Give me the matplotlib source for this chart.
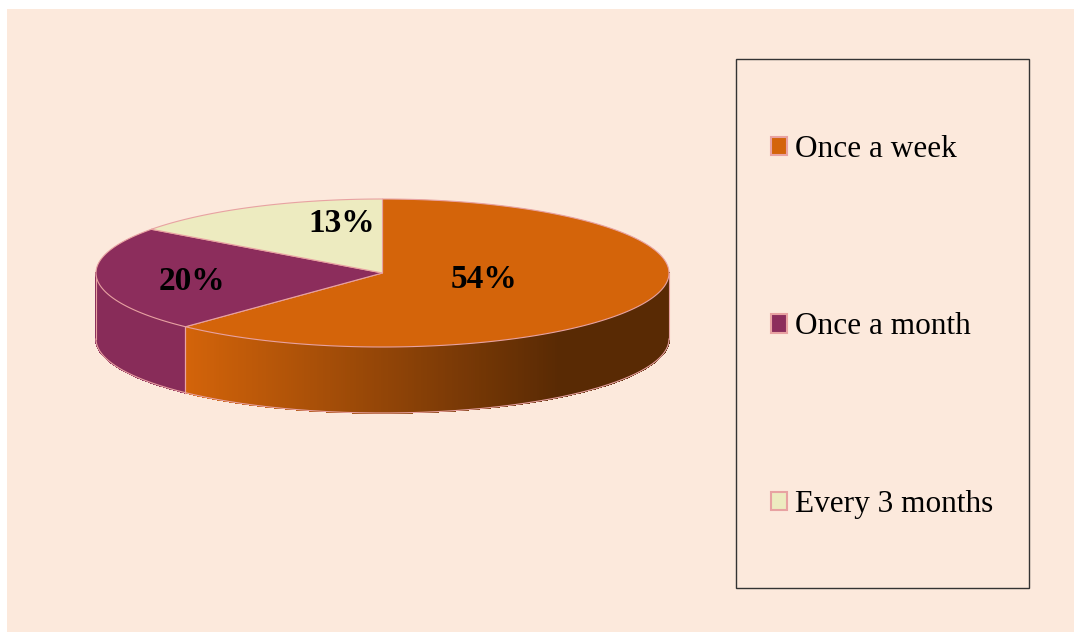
import numpy as np
import matplotlib
matplotlib.use("Agg")
import matplotlib.pyplot as plt
from matplotlib.patches import Polygon, Rectangle, Patch
from matplotlib.collections import PolyCollection
from matplotlib.colors import to_rgb

# datos
categorias = ["Once a week", "Once a month", "Every 3 months"]
valores = [54, 20, 13]
etiquetas = ["54%", "20%", "13%"]
colores = ["#D4640A", "#8C2D5C", "#EDEBC0"]

# geometria del pastel (pixeles)
cx, cy, rx, ry, prof = 382.5, 273, 286.5, 74, 66
borde = "#E8A2A2"
label_pos = [(484, 279), (192, 282), (342, 224)]

fig = plt.figure(figsize=(10.74, 6.32), dpi=100)
fig.patch.set_facecolor("white")
ax = fig.add_axes([0, 0, 1, 1])
ax.set_xlim(0, 1074)
ax.set_ylim(632, 0)
ax.axis("off")
ax.add_patch(Rectangle((7, 9), 1067, 623, facecolor="#FCE9DC", edgecolor="none", zorder=0))

def punto(t):
    t = np.radians(t)
    return cx + rx * np.cos(t), cy - ry * np.sin(t)

# angulos (sentido horario desde arriba)
frac = np.array(valores) / sum(valores)
fin = 90 + 360 * np.cumsum(frac[::-1])
ini = np.concatenate([[90], fin[:-1]])
rangos = list(zip(ini, fin))[::-1]   # orden de categorias

# cara lateral
for (a0, a1), col in zip(rangos, colores):
    lo, hi = max(a0, 180), min(a1, 360)
    if hi <= lo:
        continue
    ts = np.linspace(lo, hi, 300)
    xs, ys = punto(ts)
    quads, cols = [], []
    base = np.array(to_rgb(col))
    for i in range(len(ts) - 1):
        quads.append([(xs[i], ys[i]), (xs[i + 1], ys[i + 1]),
                      (xs[i + 1], ys[i + 1] + prof), (xs[i], ys[i] + prof)])
        f = np.clip((0.5 * (xs[i] + xs[i + 1]) - 185) / (560 - 185), 0, 1)
        cols.append(base * (1 - 0.58 * f) * (0.97 if f == 0 else 1))
    ax.add_collection(PolyCollection(quads, facecolors=cols, edgecolors=cols, linewidths=0.6,
                                     antialiased=False, zorder=2))
    ax.plot(xs, ys + prof, color=borde, lw=0.8, zorder=3)
    for t in (lo, hi):
        if 180 < t < 360:
            x, y = punto(t)
            ax.plot([x, x], [y, y + prof], color=borde, lw=0.8, zorder=3)
x0, y0 = punto(180)
x1, y1 = punto(360)
ax.plot([x0, x0], [y0, y0 + prof], color=borde, lw=0.8, zorder=3)
ax.plot([x1, x1], [y1, y1 + prof], color=borde, lw=0.8, zorder=3)

# cara superior
for (a0, a1), col in zip(rangos, colores):
    ts = np.linspace(a0, a1, 200)
    xs, ys = punto(ts)
    pts = [(cx, cy)] + list(zip(xs, ys))
    ax.add_patch(Polygon(pts, closed=True, facecolor=col, edgecolor=borde, lw=0.8, zorder=4))

for (x, y), txt in zip(label_pos, etiquetas):
    ax.text(x, y, txt, ha="center", va="center", fontsize=24, fontweight="bold",
            family="Liberation Serif", color="black", zorder=5)

# leyenda
ax.add_patch(Rectangle((736, 59), 293, 529, facecolor="none", edgecolor="#333333", lw=1.0, zorder=5))
handles = [Patch(facecolor=c, edgecolor=borde, linewidth=1.5) for c in colores]
leg = ax.legend(handles, categorias, loc="center left", bbox_to_anchor=(771 / 1074, 1 - 327 / 632),
                frameon=False, prop={"family": "Liberation Serif", "size": 22.5},
                handlelength=0.52, handleheight=0.52, handletextpad=0.25, labelspacing=4.75,
                borderpad=0, borderaxespad=0)

plt.savefig("out.png", dpi=100, facecolor=fig.get_facecolor())
